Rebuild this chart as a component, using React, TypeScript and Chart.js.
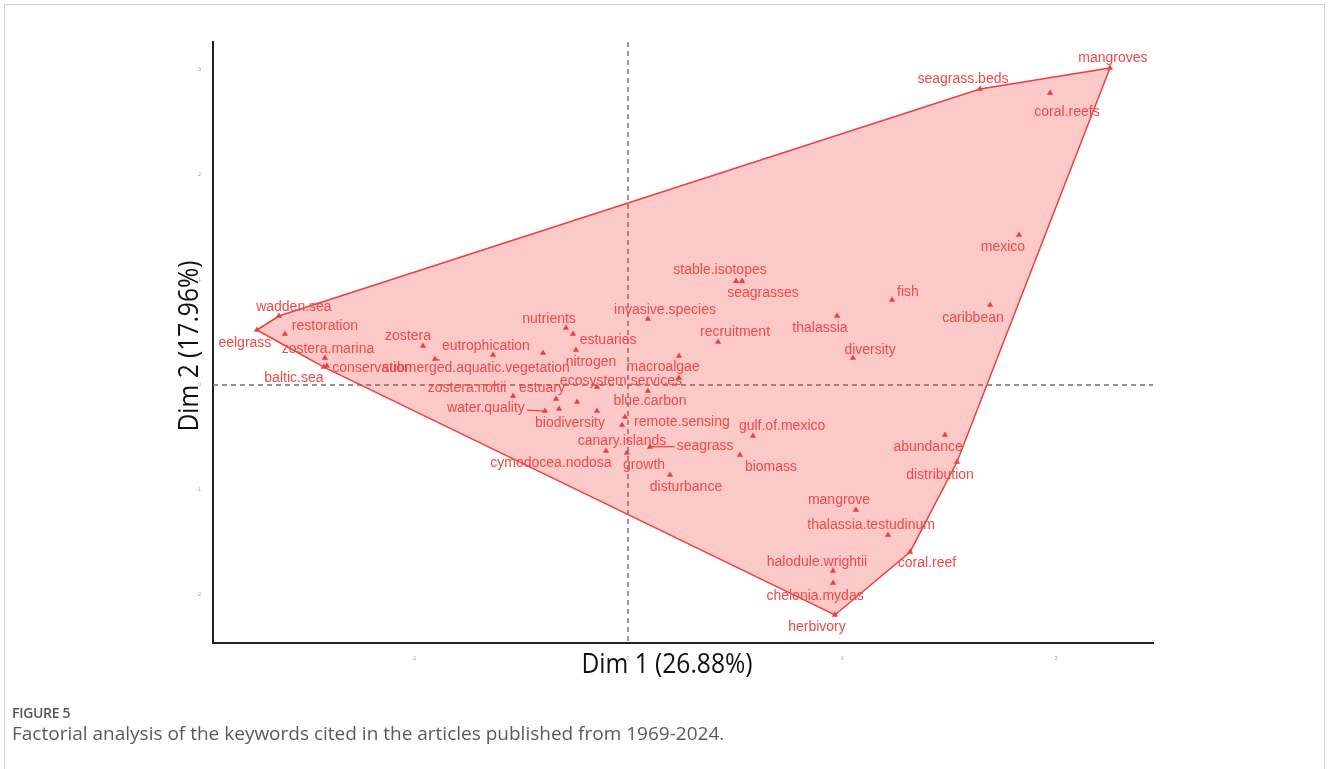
import React, { useEffect, useRef } from "react";
import { Chart, registerables } from "chart.js";

Chart.register(...registerables);

// ---- data ----
const keywords = [
  "mangroves", "seagrass.beds", "coral.reefs", "mexico", "fish", "caribbean", "thalassia", "diversity",
  "stable.isotopes", "seagrasses", "invasive.species", "recruitment", "macroalgae", "ecosystem.services",
  "blue.carbon", "remote.sensing", "canary.islands", "seagrass", "cymodocea.nodosa", "growth", "disturbance",
  "gulf.of.mexico", "biomass", "abundance", "distribution", "mangrove", "thalassia.testudinum", "coral.reef",
  "halodule.wrightii", "chelonia.mydas", "herbivory", "wadden.sea", "restoration", "eelgrass", "zostera.marina",
  "conservation", "baltic.sea", "zostera", "eutrophication", "submerged.aquatic.vegetation", "nutrients",
  "estuaries", "nitrogen", "zostera.noltii", "estuary", "water.quality", "biodiversity",
];
const dim1 = [
  2.252, 1.645, 1.972, 1.827, 1.234, 1.692, 0.977, 1.051,
  0.505, 0.533, 0.093, 0.421, 0.238, -0.145,
  0.093, -0.014, -0.028, 0.103, -0.103, -0.005, 0.196,
  0.584, 0.523, 1.481, 1.537, 1.065, 1.215, 1.318,
  0.958, 0.958, 0.967, -1.631, -1.603, -1.734, -1.416,
  -1.407, -1.421, -0.958, -0.631, -0.902, -0.29,
  -0.257, -0.243, -0.537, -0.336, -0.388, -0.322,
];
const dim2 = [
  3.019, 2.819, 2.781, 1.429, 0.81, 0.762, 0.657, 0.257,
  0.99, 0.99, 0.629, 0.41, 0.276, -0.019,
  -0.057, -0.305, -0.381, -0.59, -0.629, -0.648, -0.857,
  -0.486, -0.667, -0.476, -0.733, -1.19, -1.429, -1.59,
  -1.771, -1.886, -2.19, 0.657, 0.486, 0.524, 0.257,
  0.181, 0.171, 0.371, 0.286, 0.248, 0.543,
  0.486, 0.333, -0.105, -0.133, -0.248, -0.229,
];
// repelled label anchors (data units)
const labelDim1 = [
  2.266, 1.565, 2.051, 1.752, 1.308, 1.612, 0.897, 1.131,
  0.43, 0.631, 0.173, 0.5, 0.164, -0.033,
  0.103, 0.252, -0.028, 0.36, -0.36, 0.075, 0.271,
  0.72, 0.668, 1.402, 1.458, 0.986, 1.136, 1.397,
  0.883, 0.874, 0.883, -1.561, -1.416, -1.79, -1.402,
  -1.196, -1.561, -1.028, -0.664, -0.71, -0.369,
  -0.093, -0.173, -0.752, -0.402, -0.664, -0.271,
];
const labelDim2 = [
  3.114, 2.914, 2.6, 1.314, 0.886, 0.638, 0.543, 0.333,
  1.095, 0.876, 0.714, 0.505, 0.171, 0.038,
  -0.152, -0.352, -0.533, -0.581, -0.743, -0.762, -0.971,
  -0.39, -0.781, -0.59, -0.857, -1.095, -1.333, -1.695,
  -1.686, -2.01, -2.305, 0.743, 0.562, 0.4, 0.343,
  0.162, 0.067, 0.467, 0.371, 0.162, 0.629,
  0.429, 0.219, -0.029, -0.029, -0.219, -0.362,
];
const segmentKeywords = ["submerged.aquatic.vegetation", "water.quality", "seagrass"];
// keywords whose labels are hidden by overlap
const hiddenDim1 = [-0.397, -0.238, -0.145, 0.238];
const hiddenDim2 = [0.305, -0.162, -0.248, 0.067];

const xTicks = [-1, 0, 1, 2];
const yTicks = [-2, -1, 0, 1, 2, 3];
const xRange = [-1.939, 2.453];
const yRange = [-2.457, 3.267];
const xTitle = "Dim 1 (26.88%)";
const yTitle = "Dim 2 (17.96%)";

const RED = "rgb(240,62,62)";
const LABEL_RED = "rgb(242,72,72)";
const FILL = "rgba(245,60,60,0.28)";
const TITLE_FONT = '"Open Sans", "Liberation Sans", sans-serif';

function convexHull(pts: { x: number; y: number }[]) {
  const p = pts.slice().sort((a, b) => (a.x === b.x ? a.y - b.y : a.x - b.x));
  const cross = (o: any, a: any, b: any) => (a.x - o.x) * (b.y - o.y) - (a.y - o.y) * (b.x - o.x);
  const lower: any[] = [];
  for (const q of p) {
    while (lower.length >= 2 && cross(lower[lower.length - 2], lower[lower.length - 1], q) <= 0) lower.pop();
    lower.push(q);
  }
  const upper: any[] = [];
  for (let i = p.length - 1; i >= 0; i--) {
    const q = p[i];
    while (upper.length >= 2 && cross(upper[upper.length - 2], upper[upper.length - 1], q) <= 0) upper.pop();
    upper.push(q);
  }
  upper.pop();
  lower.pop();
  const hull = lower.concat(upper);
  hull.push(hull[0]);
  return hull;
}

const decorPlugin = {
  id: "decor",
  beforeDatasetsDraw(chart: any) {
    const { ctx, chartArea, scales } = chart;
    const x0 = scales.x.getPixelForValue(0);
    const y0 = scales.y.getPixelForValue(0);
    ctx.save();
    ctx.strokeStyle = "#6f6f6f";
    ctx.lineWidth = 1.4;
    ctx.setLineDash([5, 4]);
    ctx.beginPath();
    ctx.moveTo(x0, chartArea.top);
    ctx.lineTo(x0, chartArea.bottom);
    ctx.moveTo(chartArea.left, y0);
    ctx.lineTo(chartArea.right, y0);
    ctx.stroke();
    ctx.restore();
  },
  afterDatasetsDraw(chart: any) {
    const { ctx, scales } = chart;
    ctx.save();
    ctx.font = '14px "Liberation Sans", Arial, sans-serif';
    ctx.textAlign = "center";
    ctx.textBaseline = "middle";
    keywords.forEach((k, i) => {
      const px = scales.x.getPixelForValue(dim1[i]);
      const py = scales.y.getPixelForValue(dim2[i]);
      const lx = scales.x.getPixelForValue(labelDim1[i]);
      const ly = scales.y.getPixelForValue(labelDim2[i]);
      if (segmentKeywords.includes(k)) {
        const hw = ctx.measureText(k).width / 2 + 2;
        const hh = 8;
        const dx = px - lx;
        const dy = py - ly;
        const t = Math.min(hw / Math.abs(dx || 1e-6), hh / Math.abs(dy || 1e-6));
        ctx.strokeStyle = RED;
        ctx.lineWidth = 1.3;
        ctx.beginPath();
        ctx.moveTo(px, py);
        ctx.lineTo(lx + dx * t, ly + dy * t);
        ctx.stroke();
      }
      ctx.fillStyle = LABEL_RED;
      ctx.fillText(k, lx, ly);
    });
    ctx.restore();

    // axis titles (condensed look)
    ctx.save();
    ctx.fillStyle = "#111";
    ctx.textAlign = "center";
    ctx.textBaseline = "middle";
    ctx.font = `27px ${TITLE_FONT}`;
    ctx.translate(667, 665);
    ctx.scale(0.91, 1);
    ctx.fillText(xTitle, 0, 0);
    ctx.restore();

    ctx.save();
    ctx.fillStyle = "#111";
    ctx.textAlign = "center";
    ctx.textBaseline = "middle";
    ctx.font = `27px ${TITLE_FONT}`;
    ctx.translate(190, 346);
    ctx.rotate(-Math.PI / 2);
    ctx.scale(0.91, 1);
    ctx.fillText(yTitle, 0, 0);
    ctx.restore();
  },
};

export default function App() {
  const ref = useRef<HTMLCanvasElement | null>(null);
  useEffect(() => {
    if (!ref.current) return;
    const pts = dim1.map((v, i) => ({ x: v, y: dim2[i] }));
    const hidden = hiddenDim1.map((v, i) => ({ x: v, y: hiddenDim2[i] }));
    const hull = convexHull(pts.concat(hidden));
    const chart = new Chart(ref.current, {
      type: "scatter",
      data: {
        datasets: [
          {
            label: "keywords",
            data: pts.concat(hidden),
            pointStyle: "triangle",
            pointRadius: 3.6,
            pointBackgroundColor: RED,
            pointBorderWidth: 0,
            order: 1,
          } as any,
          {
            label: "hull",
            data: hull,
            showLine: true,
            fill: "shape",
            backgroundColor: FILL,
            borderColor: RED,
            borderWidth: 1.5,
            pointRadius: 0,
            tension: 0,
            order: 2,
          } as any,
        ],
      },
      options: {
        animation: false,
        responsive: false,
        devicePixelRatio: 1,
        layout: { padding: { left: 0, top: 42, right: 175, bottom: 0 } },
        plugins: { legend: { display: false }, tooltip: { enabled: false } },
        scales: {
          x: {
            type: "linear",
            min: xRange[0],
            max: xRange[1],
            afterFit: (s: any) => { s.height = 126; },
            afterBuildTicks: (s: any) => { s.ticks = xTicks.map((v) => ({ value: v })); },
            grid: { display: false },
            border: { display: true, color: "#222", width: 2 },
            ticks: { font: { size: 5 }, color: "#999", padding: 5 },
          },
          y: {
            type: "linear",
            min: yRange[0],
            max: yRange[1],
            afterFit: (s: any) => { s.width = 213; },
            afterBuildTicks: (s: any) => { s.ticks = yTicks.map((v) => ({ value: v })); },
            grid: { display: false },
            border: { display: true, color: "#222", width: 2 },
            ticks: { font: { size: 5 }, color: "#999", padding: 4 },
          },
        },
      } as any,
      plugins: [decorPlugin],
    });
    return () => chart.destroy();
  }, []);

  return (
    <div style={{ position: "absolute", left: 0, top: 0, width: 1328, height: 769, background: "#fff", overflow: "hidden" }}>
      <div style={{ position: "absolute", left: 4, top: 4, width: 1319, height: 800, border: "1px solid #d4d4d4" }} />
      <canvas ref={ref} width={1328} height={769} style={{ position: "absolute", left: 0, top: 0, width: 1328, height: 769 }} />
      <div style={{ position: "absolute", left: 12, top: 703, font: '600 14px "Open Sans", sans-serif', color: "#555", letterSpacing: "-0.3px" }}>
        FIGURE 5
      </div>
      <div style={{ position: "absolute", left: 12, top: 720, font: '19px "Open Sans", sans-serif', color: "#5a5a5a" }}>
        Factorial analysis of the keywords cited in the articles published from 1969-2024.
      </div>
    </div>
  );
}
